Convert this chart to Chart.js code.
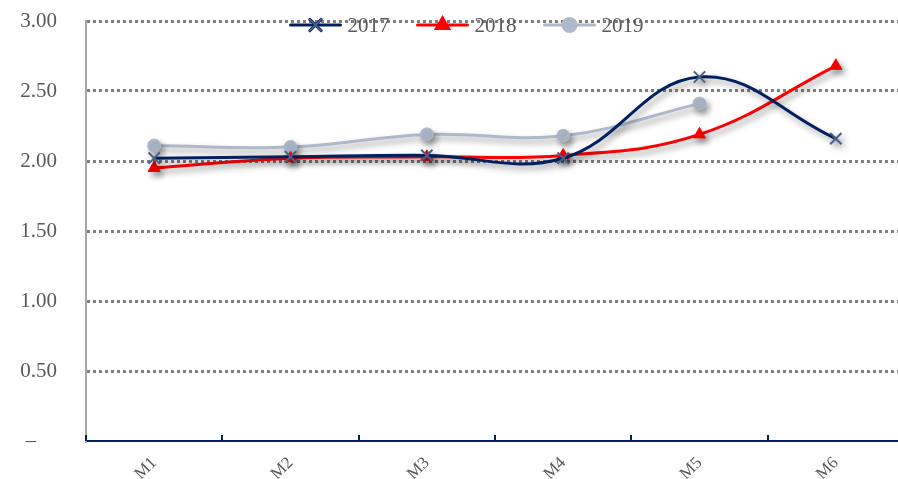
<!DOCTYPE html>
<html>
<head>
<meta charset="utf-8">
<script src="https://cdn.jsdelivr.net/npm/chart.js@4.4.1/dist/chart.umd.min.js"></script>
<style>
  html, body { margin: 0; padding: 0; background: #ffffff; overflow: hidden; }
  #wrap { width: 898px; height: 479px; overflow: hidden; position: relative; }
  #box { width: 914px; height: 479px; position: absolute; left: 0; top: 0; }
</style>
</head>
<body>
<div id="wrap"><div id="box"><canvas id="c"></canvas></div></div>
<script>
// Monthly index values, three years
const months = ['M1', 'M2', 'M3', 'M4', 'M5', 'M6'];
const series2017 = [2.02, 2.03, 2.04, 2.02, 2.60, 2.16];
const series2018 = [1.95, 2.02, 2.03, 2.04, 2.19, 2.68];
const series2019 = [2.11, 2.10, 2.19, 2.18, 2.41, null];
const yearLabels = ['2017', '2018', '2019'];
const yTicks = [0, 0.5, 1.0, 1.5, 2.0, 2.5, 3.0];

const NAVY = '#002060';
const RED = '#ff0000';
const SLATE = '#adb9ca';
const TEXT = '#595959';
const FONT = '"Liberation Serif", "DejaVu Serif", serif';

// soft drop shadow under the series lines and markers
const shadowPlugin = {
  id: 'seriesShadow',
  beforeDatasetsDraw(chart) {
    const ctx = chart.ctx;
    ctx.save();
    ctx.shadowColor = 'rgba(0,0,0,0.4)';
    ctx.shadowBlur = 6;
    ctx.shadowOffsetX = 3;
    ctx.shadowOffsetY = 4;
  },
  afterDatasetsDraw(chart) {
    chart.ctx.restore();
  }
};

// small inward tick marks on the category boundaries of the x axis
const xTickMarks = {
  id: 'xTickMarks',
  afterDraw(chart) {
    const xs = chart.scales.x, ctx = chart.ctx;
    const y0 = xs.top;
    ctx.save();
    ctx.strokeStyle = NAVY;
    ctx.lineWidth = 2;
    for (let i = 0; i <= months.length; i++) {
      const x = Math.round(xs.getPixelForValue(i - 0.5));
      ctx.beginPath();
      ctx.moveTo(x, y0);
      ctx.lineTo(x, y0 - 6);
      ctx.stroke();
    }
    ctx.restore();
  }
};

// legend across the top edge: line sample with marker, then the year
const topLegend = {
  id: 'topLegend',
  afterDraw(chart) {
    const ctx = chart.ctx;
    const sample = 54, gapText = 5, gapItem = 26;
    ctx.save();
    ctx.font = '21px ' + FONT;
    const widths = chart.data.datasets.map(d => sample + gapText + ctx.measureText(d.label).width);
    const total = widths.reduce((a, b) => a + b, 0) + gapItem * (widths.length - 1);
    let x = 466 - total / 2;
    const y = 25;
    chart.data.datasets.forEach((d, i) => {
      ctx.strokeStyle = d.borderColor;
      ctx.lineWidth = 3;
      ctx.lineCap = 'round';
      ctx.beginPath();
      ctx.moveTo(x + 2, y);
      ctx.lineTo(x + sample - 2, y);
      ctx.stroke();
      Chart.helpers.drawPoint(ctx, {
        pointStyle: d.pointStyle,
        radius: d.pointRadius,
        borderWidth: d.pointBorderWidth,
        rotation: 0
      }, x + sample / 2, y);
      ctx.fillStyle = d.pointBackgroundColor;
      ctx.strokeStyle = d.pointBorderColor;
      ctx.lineWidth = d.pointBorderWidth;
      ctx.fill();
      ctx.stroke();
      ctx.fillStyle = TEXT;
      ctx.textBaseline = 'middle';
      ctx.textAlign = 'left';
      ctx.fillText(d.label, x + sample + gapText, y + 1);
      x += widths[i] + gapItem;
    });
    ctx.restore();
  }
};

new Chart(document.getElementById('c'), {
  type: 'line',
  data: {
    labels: months,
    datasets: [
      {
        label: yearLabels[0], data: series2017,
        borderColor: NAVY, borderWidth: 3, tension: 0.4,
        pointStyle: 'crossRot', pointRadius: 8, pointBorderWidth: 2,
        pointBorderColor: '#4a5f88', pointBackgroundColor: '#4a5f88'
      },
      {
        label: yearLabels[1], data: series2018,
        borderColor: RED, borderWidth: 3, tension: 0.4,
        pointStyle: 'triangle', pointRadius: 7, pointBorderWidth: 1,
        pointBorderColor: RED, pointBackgroundColor: RED
      },
      {
        label: yearLabels[2], data: series2019,
        borderColor: SLATE, borderWidth: 3, tension: 0.4,
        pointStyle: 'circle', pointRadius: 6.5, pointBorderWidth: 1,
        pointBorderColor: SLATE, pointBackgroundColor: SLATE
      }
    ]
  },
  options: {
    responsive: true,
    maintainAspectRatio: false,
    animation: false,
    layout: { padding: { top: 21, right: 3, bottom: 0, left: 0 } },
    plugins: { legend: { display: false }, tooltip: { enabled: false } },
    scales: {
      x: {
        offset: true,
        grid: { display: false },
        border: { display: true, color: NAVY, width: 2 },
        ticks: {
          color: TEXT, font: { family: FONT, size: 17 },
          minRotation: 45, maxRotation: 45, padding: 4
        },
        afterFit(s) { s.height = 38; }
      },
      y: {
        min: 0, max: 3,
        afterBuildTicks(s) { s.ticks = yTicks.map(v => ({ value: v })); },
        grid: {
          drawTicks: false,
          color: ctx => ctx.tick && ctx.tick.value === 0 ? 'rgba(0,0,0,0)' : '#7f7f7f',
          lineWidth: 3
        },
        border: { display: true, color: '#a6a6a6', width: 2, dash: [3, 3] },
        ticks: {
          color: TEXT, font: { family: FONT, size: 21 }, padding: 29,
          callback: v => v === 0 ? '\u2013\u2002\u2002' : v.toFixed(2)
        },
        afterFit(s) { s.width = 86; s.paddingTop = 0; s.paddingBottom = 0; }
      }
    }
  },
  plugins: [shadowPlugin, xTickMarks, topLegend]
});
</script>
</body>
</html>
